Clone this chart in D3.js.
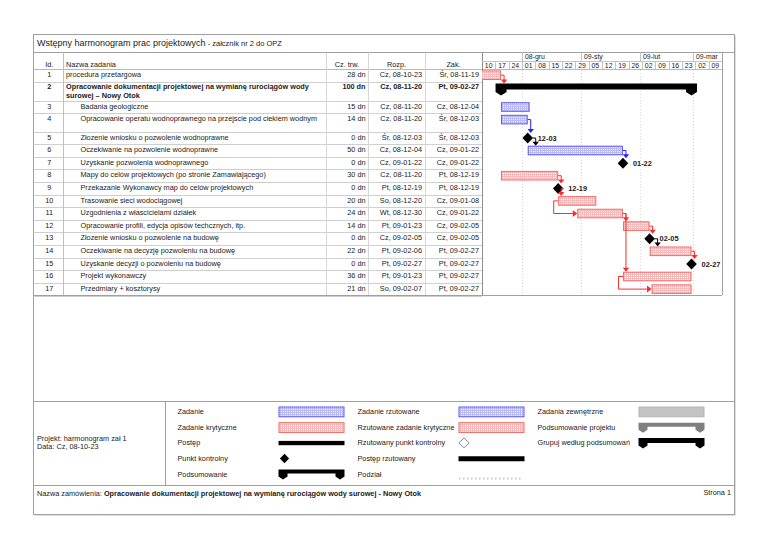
<!DOCTYPE html>
<html><head><meta charset="utf-8">
<script src="https://cdn.jsdelivr.net/npm/d3@7"></script>
<style>
html,body{margin:0;padding:0;background:#fff;}
svg{display:block;font-family:"Liberation Sans",Arial,sans-serif;}
</style></head><body>
<svg id="c" width="768" height="543"></svg>
<script>
// ---------- DATA ----------
const taskIds = [1,2,3,4,5,6,7,8,9,10,11,12,13,14,15,16,17];
const taskNames = [
  "procedura przetargowa",
  "Opracowanie dokumentacji projektowej na wymianę rurociągów wody|surowej – Nowy Otok",
  "Badania geologiczne",
  "Opracowanie operatu wodnoprawnego na przejscie pod ciekiem wodnym",
  "Złozenie wniosku o pozwolenie wodnoprawne",
  "Oczekiwanie na pozwolenie wodnoprawne",
  "Uzyskanie pozwolenia wodnoprawnego",
  "Mapy do celów projektowych (po stronie Zamawiającego)",
  "Przekazanie Wykonawcy map do celów projektowych",
  "Trasowanie sieci wodociągowej",
  "Uzgodnienia z włascicielami działek",
  "Opracowanie profili, edycja opisów techcznych, itp.",
  "Złozenie wniosku o pozwolenie na budowę",
  "Oczekiwanie na decyzję  pozwoleniu na budowę",
  "Uzyskanie decyzji o pozwoleniu na budowę",
  "Projekt wykonawczy",
  "Przedmiary + kosztorysy"
];
const durations = ["28 dn","100 dn","15 dn","14 dn","0 dn","50 dn","0 dn","30 dn","0 dn","20 dn","24 dn","14 dn","0 dn","22 dn","0 dn","36 dn","21 dn"];
const startLabels = ["Cz, 08-10-23","Cz, 08-11-20","Cz, 08-11-20","Cz, 08-11-20","Śr, 08-12-03","Cz, 08-12-04","Cz, 09-01-22","Cz, 08-11-20","Pt, 08-12-19","So, 08-12-20","Wt, 08-12-30","Pt, 09-01-23","Cz, 09-02-05","Pt, 09-02-06","Pt, 09-02-27","Pt, 09-01-23","So, 09-02-07"];
const finishLabels = ["Śr, 08-11-19","Pt, 09-02-27","Cz, 08-12-04","Śr, 08-12-03","Śr, 08-12-03","Cz, 09-01-22","Cz, 09-01-22","Pt, 08-12-19","Pt, 08-12-19","Cz, 09-01-08","Cz, 09-01-22","Cz, 09-02-05","Cz, 09-02-05","Pt, 09-02-27","Pt, 09-02-27","Pt, 09-02-27","Pt, 09-02-27"];
const startDates = ["2008-10-23","2008-11-20","2008-11-20","2008-11-20","2008-12-03","2008-12-04","2009-01-22","2008-11-20","2008-12-19","2008-12-20","2008-12-30","2009-01-23","2009-02-05","2009-02-06","2009-02-27","2009-01-23","2009-02-07"];
const finishDates = ["2008-11-19","2009-02-27","2008-12-04","2008-12-03","2008-12-03","2009-01-22","2009-01-22","2008-12-19","2008-12-19","2009-01-08","2009-01-22","2009-02-05","2009-02-05","2009-02-27","2009-02-27","2009-02-27","2009-02-27"];
const taskKinds = ["task","summary","task","task","milestone","task","milestone","task","milestone","task","task","task","milestone","task","milestone","task","task"];
const critical = [true,false,false,false,false,false,false,true,true,true,true,true,false,true,true,true,true];
const links = [[1,2,"FS"],[4,5,"FS"],[5,6,"FS"],[6,7,"FS"],[8,9,"FS"],[9,10,"FS"],[10,11,"SS"],[11,12,"FS"],[11,16,"FS"],[12,13,"FS"],[13,14,"FS"],[14,15,"FS"],[16,17,"SS"]];
const timelineStart = "2008-11-10", timelineEnd = "2009-03-16";
const plShortMonths = ["sty","lut","mar","kwi","maj","cze","lip","sie","wrz","paź","lis","gru"];
const tableHeaders = ["Id.","Nazwa zadania","Cz. trw.","Rozp.","Zak."];
const titleMain = "Wstępny harmonogram prac projektowych";
const titleSub = " - załcznik nr 2 do OPZ";
const legendCol1 = ["Zadanie","Zadanie krytyczne","Postęp","Punkt kontrolny","Podsumowanie"];
const legendCol2 = ["Zadanie rzutowane","Rzutowane zadanie krytyczne","Rzutowany punkt kontrolny","Postęp rzutowany","Podział"];
const legendCol3 = ["Zadania zewnętrzne","Podsumowanie projektu","Grupuj według podsumowań"];
const projectInfo = ["Projekt: harmonogram zał 1","Data: Cz, 08-10-23"];
const footerLabel = "Nazwa zamówienia: ";
const footerValue = "Opracowanie dokumentacji projektowej na wymianę rurociągów wody surowej - Nowy Otok";
const pageLabel = "Strona 1";

// ---------- LAYOUT ----------
const svg = d3.select("#c");
const FS = 7.3;
const TXT = "#1a1a1a";
const X0 = 33.5, X1 = 734.5, Y0 = 34.5, Y1 = 514.5;
const titleLineY = 52.5, headY = 69, tableBottom = 295;
const colX = {id0: X0, id1: 63, name1: 326, dur1: 368, st1: 425, fin1: 482, gantt1: 722};
const parse = d3.timeParse("%Y-%m-%d");

const defs = svg.append("defs");
function pat(id, bg, fg){
  const p = defs.append("pattern").attr("id", id).attr("width", 2).attr("height", 2).attr("patternUnits","userSpaceOnUse");
  p.append("rect").attr("width",2).attr("height",2).attr("fill",fg);
  p.append("rect").attr("x",1).attr("y",1).attr("width",1).attr("height",1).attr("fill",bg);
}
pat("pRed", "#fff2f2", "#f7b9b9");
pat("pBlue", "#f2f2ff", "#b9b9f7");
defs.append("clipPath").attr("id","gclip").append("rect")
  .attr("x", colX.fin1).attr("y", headY).attr("width", colX.gantt1 - colX.fin1).attr("height", tableBottom - headY);
defs.append("clipPath").attr("id","nclip").append("rect")
  .attr("x", colX.id1).attr("y", headY).attr("width", colX.name1 - colX.id1 - 2).attr("height", tableBottom - headY);

// rows
const rowHeights = taskIds.map((d,i)=> i===1 ? 19.2 : (i===3 ? 18.3 : 12.6));
const rowTops = [];
rowHeights.reduce((acc,h)=>{rowTops.push(acc); return acc+h;}, headY);
const yTop = d3.scaleOrdinal().domain(taskIds).range(rowTops);
const yH = d3.scaleOrdinal().domain(taskIds).range(rowHeights);

const x = d3.scaleTime().domain([parse(timelineStart), parse(timelineEnd)]).range([colX.fin1, colX.gantt1]);

const tasks = taskIds.map((id,i)=>({
  id, name: taskNames[i], dur: durations[i], sl: startLabels[i], fl: finishLabels[i],
  s: parse(startDates[i]), f: d3.timeDay.offset(parse(finishDates[i]),1),
  fd: parse(finishDates[i]), kind: taskKinds[i], crit: critical[i]
}));
const byId = new Map(tasks.map(t=>[t.id,t]));

// ---------- FRAME ----------
svg.append("rect").attr("x",X0+1.2).attr("y",Y0+1.2).attr("width",X1-X0).attr("height",Y1-Y0).attr("fill","#d0d0d0");
svg.append("rect").attr("x",X0).attr("y",Y0).attr("width",X1-X0).attr("height",Y1-Y0).attr("fill","#fff").attr("stroke","#a0a0a0").attr("stroke-width",1);

// title
const tt = svg.append("text").attr("x",37).attr("y",42.5).attr("dominant-baseline","central").attr("fill",TXT);
tt.append("tspan").attr("font-size",9).text(titleMain);
tt.append("tspan").attr("font-size",7.5).text(titleSub);

const line = (x1,y1,x2,y2,c,w,dash)=> svg.append("line").attr("x1",x1).attr("y1",y1).attr("x2",x2).attr("y2",y2)
  .attr("stroke",c).attr("stroke-width",w||1).attr("stroke-dasharray",dash||null);

line(X0,titleLineY,X1,titleLineY,"#a0a0a0");

// ---------- TABLE ----------
tasks.forEach(t=>{
  const yb = yTop(t.id)+yH(t.id);
  line(X0, Math.round(yb)+0.5, colX.fin1, Math.round(yb)+0.5, "#cfcfcf");
});
line(X0, headY+0.5, colX.gantt1, headY+0.5, "#b8b8b8");
[colX.id1, colX.name1, colX.dur1, colX.st1].forEach(cx=> line(cx+0.5, titleLineY, cx+0.5, tableBottom, "#d6d6d6"));
line(colX.id1+0.5, titleLineY, colX.id1+0.5, tableBottom, "#c0c0c0");
line(colX.fin1+0.5, titleLineY, colX.fin1+0.5, tableBottom, "#8c8c8c");
line(colX.gantt1+0.5, titleLineY, colX.gantt1+0.5, tableBottom, "#a0a0a0");
line(X0, tableBottom+0.5, colX.gantt1, tableBottom+0.5, "#a0a0a0");

// headers
const hY = 64.3;
const hdr = svg.append("g").attr("font-size",FS).attr("fill",TXT).attr("dominant-baseline","central");
hdr.append("text").attr("x",(colX.id0+colX.id1)/2+1).attr("y",hY).attr("text-anchor","middle").text(tableHeaders[0]);
hdr.append("text").attr("x",66).attr("y",hY).text(tableHeaders[1]);
hdr.append("text").attr("x",(colX.name1+colX.dur1)/2).attr("y",hY).attr("text-anchor","middle").text(tableHeaders[2]);
hdr.append("text").attr("x",(colX.dur1+colX.st1)/2).attr("y",hY).attr("text-anchor","middle").text(tableHeaders[3]);
hdr.append("text").attr("x",(colX.st1+colX.fin1)/2).attr("y",hY).attr("text-anchor","middle").text(tableHeaders[4]);

const rows = svg.append("g").attr("font-size",FS).attr("fill",TXT);
tasks.forEach((t,i)=>{
  const ty = yTop(t.id) + 5.3;
  const bold = t.kind==="summary" ? "bold" : null;
  const g = rows.append("g").attr("font-weight",bold);
  g.append("text").attr("x",(colX.id0+colX.id1)/2+1).attr("y",ty).attr("dominant-baseline","central").attr("text-anchor","middle").text(t.id);
  const nx = (i<2) ? 66 : 80.5;
  t.name.split("|").forEach((ln,k)=>{
    g.append("text").attr("clip-path","url(#nclip)").attr("x",nx).attr("y",ty+k*8.7).attr("dominant-baseline","central").text(ln);
  });
  g.append("text").attr("x",colX.dur1-2.5).attr("y",ty).attr("dominant-baseline","central").attr("text-anchor","end").text(t.dur);
  g.append("text").attr("x",colX.st1-3).attr("y",ty).attr("dominant-baseline","central").attr("text-anchor","end").text(t.sl);
  g.append("text").attr("x",colX.fin1-3).attr("y",ty).attr("dominant-baseline","central").attr("text-anchor","end").text(t.fl);
});

// ---------- TIMESCALE ----------
const monthRowB = 61;
const tsc = svg.append("g").attr("font-size",6.9).attr("fill",TXT);
const pl = d3.timeFormatLocale({dateTime:"%c",date:"%d.%m.%Y",time:"%H:%M:%S",periods:["AM","PM"],
  days:["niedziela","poniedziałek","wtorek","środa","czwartek","piątek","sobota"],
  shortDays:["Nd","Pn","Wt","Śr","Cz","Pt","So"],
  months:["styczeń","luty","marzec","kwiecień","maj","czerwiec","lipiec","sierpień","wrzesień","październik","listopad","grudzień"],
  shortMonths: plShortMonths});
const monthFmt = pl.format("%y-%b");
const dayFmt = pl.format("%d");
const [d0,d1] = x.domain();
const months = d3.timeMonth.range(d3.timeMonth.ceil(d0), d1);
const weeks = d3.timeMonday.range(d0, d1);
line(colX.fin1, monthRowB+0.5, colX.gantt1, monthRowB+0.5, "#c4c4c4");
months.forEach(m=>{
  const mx = Math.round(x(m))+0.5;
  line(mx, titleLineY, mx, monthRowB, "#c4c4c4");
  tsc.append("text").attr("x",mx+2.5).attr("y",56.5).attr("dominant-baseline","central").text(monthFmt(m));
  line(mx, headY+1, mx, tableBottom, "#cfcfcf", 0.8, "1,2");
});
weeks.forEach((w,i)=>{
  const wx = Math.round(x(w))+0.5;
  if(i>0) line(wx, monthRowB, wx, headY, "#c4c4c4");
  const nx = x(d3.timeDay.offset(w,7));
  tsc.append("text").attr("x",(x(w)+nx)/2).attr("y",65.3).attr("dominant-baseline","central").attr("text-anchor","middle").text(dayFmt(w));
});

// ---------- BARS ----------
const gb = svg.append("g").attr("clip-path","url(#gclip)");
const BAR_OFF = 1.4, BAR_H = 9.6;
function barTop(t){ return yTop(t.id)+BAR_OFF; }
function midY(t){ return t.kind==="milestone" ? yTop(t.id)+6.3 : yTop(t.id)+BAR_OFF+BAR_H/2; }

tasks.filter(t=>t.kind==="task").forEach(t=>{
  gb.append("rect").attr("x",x(t.s)+0.5).attr("y",barTop(t)+0.5)
    .attr("width",x(t.f)-x(t.s)-1).attr("height",BAR_H-1)
    .attr("fill", t.crit ? "url(#pRed)" : "url(#pBlue)")
    .attr("stroke", t.crit ? "#f26b6b" : "#5a5af5").attr("stroke-width",1);
});

function summaryPath(x0,x1,y,th,capW,capD,tip){
  return `M${x0-capW},${y}H${x1+capW}V${y+capD}L${x1},${y+tip}L${x1-capW},${y+capD}V${y+th}H${x0+capW}V${y+capD}L${x0},${y+tip}L${x0-capW},${y+capD}Z`;
}
tasks.filter(t=>t.kind==="summary").forEach(t=>{
  gb.append("path").attr("d", summaryPath(x(t.s), x(t.f), yTop(t.id)+1.8, 6, 5.5, 8.5, 12)).attr("fill","#000");
});

// links
const gl = svg.append("g").attr("clip-path","url(#gclip)");
function downArrow(g,xx,ytip,c){ g.append("path").attr("d",`M${xx-3.2},${ytip-4}L${xx+3.2},${ytip-4}L${xx},${ytip}Z`).attr("fill",c); }
function rightArrow(g,xtip,yy,c){ g.append("path").attr("d",`M${xtip-4.5},${yy-3.5}L${xtip-4.5},${yy+3.5}L${xtip},${yy}Z`).attr("fill",c); }
links.forEach(([a,b,type])=>{
  const p = byId.get(a), s = byId.get(b);
  const c = p.crit ? "#ff2a2a" : (p.kind==="milestone" ? "#000" : "#2323ff");
  if(type==="FS"){
    let ex, vx;
    if(p.kind==="milestone"){ ex = x(p.f)+5; vx = p.crit ? x(p.f)+3 : x(p.f)+8; }
    else { ex = x(p.f); vx = x(p.f)+3; }
    const y1 = midY(p);
    const ytip = s.kind==="milestone" ? midY(s)-5 : (s.kind==="summary" ? yTop(s.id)+1.8 : barTop(s));
    gl.append("path").attr("d",`M${ex},${y1}H${vx}V${ytip-3}`).attr("fill","none").attr("stroke",c).attr("stroke-width",1);
    downArrow(gl, vx, ytip, c);
  } else {
    const sx = x(p.s), lx = sx-4.5;
    const y1 = midY(p), y2 = midY(s);
    gl.append("path").attr("d",`M${sx},${y1}H${lx}V${y2}H${x(s.s)-3}`).attr("fill","none").attr("stroke",c).attr("stroke-width",1);
    rightArrow(gl, x(s.s), y2, c);
  }
});

// milestones
const mFmt = d3.timeFormat("%m-%d");
tasks.filter(t=>t.kind==="milestone").forEach(t=>{
  const cx = x(t.f), cy = midY(t);
  gb.append("path").attr("d",`M${cx},${cy-5.5}L${cx+5.3},${cy}L${cx},${cy+5.5}L${cx-5.3},${cy}Z`).attr("fill","#000");
  gb.append("text").attr("x",cx+10).attr("y",cy).attr("dominant-baseline","central").attr("font-size",7.4).attr("font-weight","bold").attr("fill",TXT).text(mFmt(t.fd));
});

// ---------- LEGEND ----------
const legTop = 401, legBot = 485;
line(X0, legTop+0.5, X1, legTop+0.5, "#a0a0a0");
line(X0, legBot+0.5, X1, legBot+0.5, "#a0a0a0");
line(165.5, legTop, 165.5, legBot, "#a0a0a0");
const lg = svg.append("g").attr("font-size",FS).attr("fill",TXT);
projectInfo.forEach((s,i)=> lg.append("text").attr("x",37).attr("y",438.3+i*8.4).attr("dominant-baseline","central").text(s));
const ly = d3.scalePoint().domain(d3.range(5)).range([411.6, 474.2]);
const cols = [{lx:177.5, sx:278.5, items:legendCol1},{lx:357.5, sx:458.5, items:legendCol2},{lx:537.5, sx:638.5, items:legendCol3}];
const SW = 66;
cols.forEach(c=> c.items.forEach((s,i)=> lg.append("text").attr("x",c.lx).attr("y",ly(i)).attr("dominant-baseline","central").text(s)));
function legBar(sx, cy, fillId, stroke){ svg.append("rect").attr("x",sx+0.5).attr("y",cy-4.6).attr("width",SW-1).attr("height",9.8).attr("fill",fillId).attr("stroke",stroke); }
legBar(cols[0].sx, ly(0), "url(#pBlue)", "#5a5af5");
legBar(cols[0].sx, ly(1), "url(#pRed)", "#f26b6b");
svg.append("rect").attr("x",cols[0].sx).attr("y",ly(2)-2).attr("width",SW).attr("height",4.3).attr("fill","#000");
{ const cx = cols[0].sx+6, cy = ly(3); svg.append("path").attr("d",`M${cx},${cy-4.8}L${cx+4.6},${cy}L${cx},${cy+4.8}L${cx-4.6},${cy}Z`).attr("fill","#000"); }
svg.append("path").attr("d", summaryPath(cols[0].sx+4.5, cols[0].sx+SW-4.5, ly(4)-4.8, 4, 4.5, 7, 10)).attr("fill","#000");
legBar(cols[1].sx, ly(0), "url(#pBlue)", "#5a5af5");
legBar(cols[1].sx, ly(1), "url(#pRed)", "#f26b6b");
{ const cx = cols[1].sx+5.5, cy = ly(2); svg.append("path").attr("d",`M${cx},${cy-5}L${cx+5},${cy}L${cx},${cy+5}L${cx-5},${cy}Z`).attr("fill","#fff").attr("stroke","#7a7a7a").attr("stroke-width",0.9); }
svg.append("rect").attr("x",cols[1].sx).attr("y",ly(3)-2.3).attr("width",SW).attr("height",5).attr("fill","#000");
line(cols[1].sx+1, ly(4)+4.3, cols[1].sx+SW-2, ly(4)+4.3, "#9a9a9a", 2, "0.8,3.2");
svg.append("rect").attr("x",cols[2].sx+0.5).attr("y",ly(0)-4.6).attr("width",SW-1).attr("height",9.8).attr("fill","#c4c4c4").attr("stroke","#b4b4b4");
svg.append("path").attr("d", summaryPath(cols[2].sx+4.5, cols[2].sx+SW-4.5, ly(1)-4.5, 4, 4.5, 7, 10)).attr("fill","#808080");
svg.append("path").attr("d", summaryPath(cols[2].sx+4.5, cols[2].sx+SW-4.5, ly(2)-5, 5, 4.5, 7.5, 10.5)).attr("fill","#000");

// ---------- FOOTER ----------
const ft = svg.append("text").attr("x",37).attr("y",492.8).attr("dominant-baseline","central").attr("font-size",FS).attr("fill",TXT);
ft.append("tspan").text(footerLabel);
ft.append("tspan").attr("font-weight","bold").text(footerValue);
svg.append("text").attr("x",731).attr("y",492.8).attr("dominant-baseline","central").attr("text-anchor","end").attr("font-size",FS).attr("fill",TXT).text(pageLabel);
</script>
</body></html>
